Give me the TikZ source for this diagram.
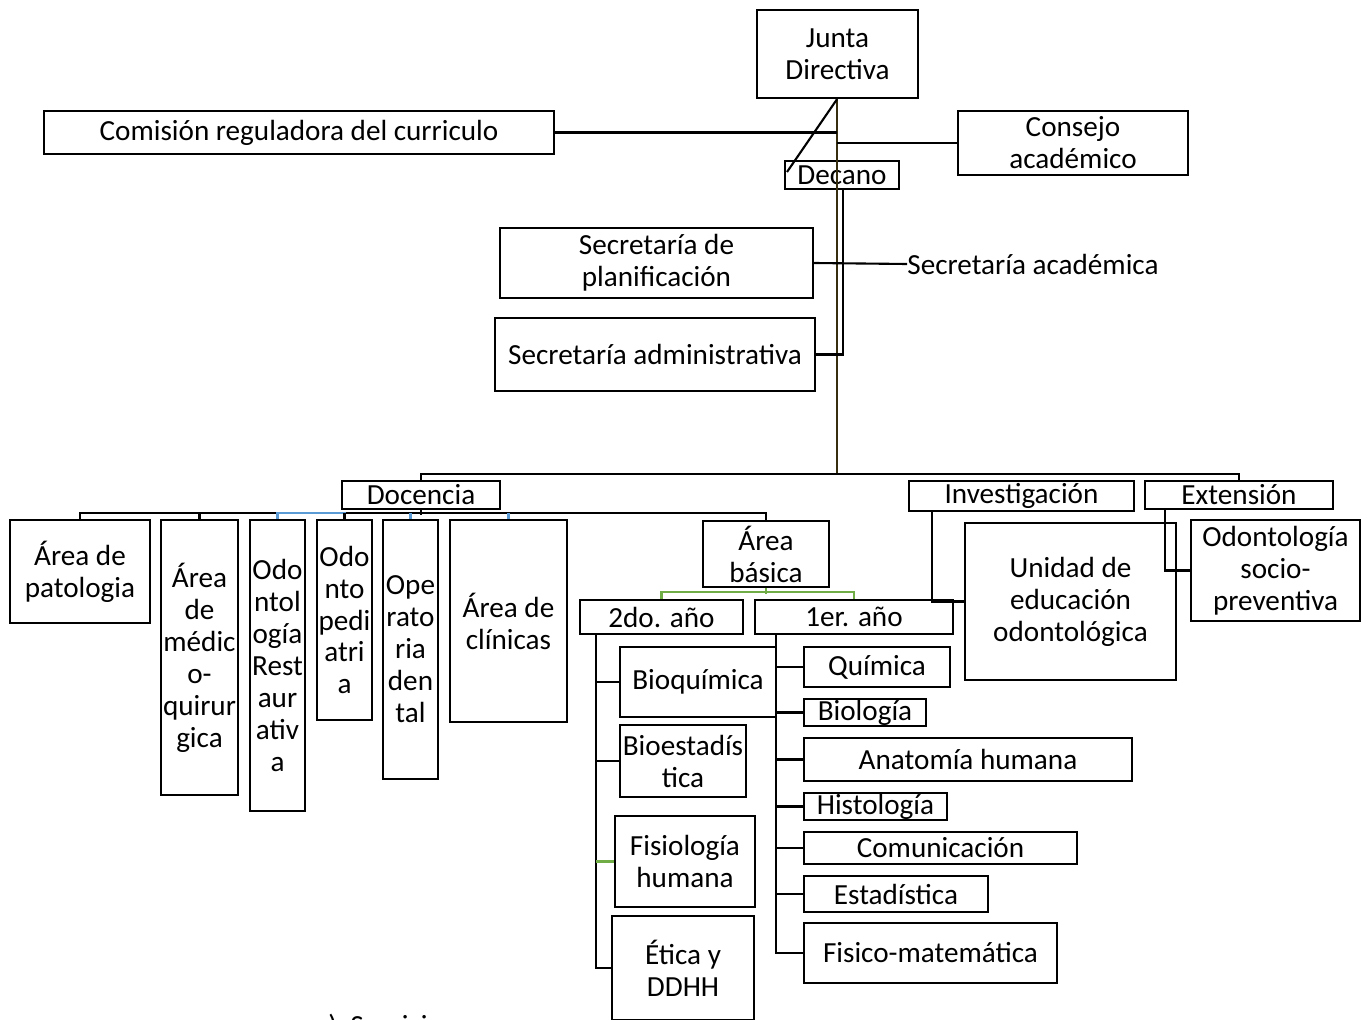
\documentclass[tikz,border=0pt]{standalone}
\usepackage{fontspec}
\setmainfont{Carlito}
\newcommand\fs{\fontsize{16.6}{18.2}\selectfont}
\definecolor{trunkc}{RGB}{55,45,15}
\definecolor{blu}{RGB}{91,155,213}
\definecolor{grn}{RGB}{112,173,71}
\begin{document}
\begin{tikzpicture}[x=0.02cm,y=-0.02cm,
  box/.style={draw,line width=1.4pt,inner sep=0pt,align=center,font=\fs,fill=white},
  obox/.style={draw,line width=1.4pt,inner sep=0pt,align=center,font=\fs},
  ln/.style={line width=1.2pt},
  trunk/.style={line width=1.2pt,draw=trunkc},
  bln/.style={line width=1.2pt,draw=blu},
  gln/.style={line width=1.2pt,draw=grn}]
\newcommand\bx[7][box]{\node[#1,minimum width={(#5-#3)*0.02cm},minimum height={(#6-#4)*0.02cm}] (#2) at ({(#3+#5)/2},{(#4+#6)/2}) {#7};}
\useasboundingbox (0,0) rectangle (1369,1020);
% bottom partial text (covered by box)
\node[font=\fs,anchor=base west,inner sep=0pt] (serv) at (328,1035) {)\ \ Servicios};
% boxes
\bx{junta}{757}{10}{918}{98}{Junta\\Directiva}
\bx{comision}{44}{111}{554}{154}{Comisión reguladora del curriculo}
\bx{consejo}{958}{111}{1188}{175}{Consejo\\académico}
\bx[obox]{decano}{785}{161}{899}{189}{Decano}
\bx{secplan}{500}{228}{813}{298}{Secretaría de\\planificación}
\node[font=\fs,anchor=west,inner sep=0pt] (secacad) at (907,264) {Secretaría académica};
\bx{secadm}{495}{318}{815}{391}{Secretaría administrativa}
\bx{docencia}{342}{481}{500}{509}{Docencia}
\bx{investigacion}{909}{481}{1134}{511}{Investigación}
\bx{extension}{1145}{481}{1333}{509}{Extensión}
\bx{patologia}{10}{520}{150}{623}{Área de\\patologia}
\bx{medico}{161}{520}{238}{795}{Área\\de\\médic\\o-\\quirur\\gica}
\bx{odrest}{250}{520}{305}{811}{Odo\\ntol\\ogía\\Rest\\aur\\ativ\\a}
\bx{odped}{317}{520}{372}{720}{Odo\\nto\\pedi\\atri\\a}
\bx{operatoria}{383}{520}{438}{779}{Ope\\rato\\ria\\den\\tal}
\bx{clinicas}{450}{520}{567}{722}{Área de\\clínicas}
\bx{abasica}{703}{521}{829}{587}{Área\\básica}
\bx{segundo}{580}{600}{743}{634}{2do. año}
\bx{primero}{755}{600}{953}{634}{1er. año}
\bx{unidad}{965}{523}{1176}{680}{Unidad de\\educación\\odontológica}
\bx{odsp}{1191}{520}{1360}{621}{Odontología\\socio-\\preventiva}
\bx{bioq}{620}{647}{776}{717}{Bioquímica}
\bx{bioest}{620}{725}{746}{797}{Bioestadís\\tica}
\bx{fisio}{615}{816}{755}{907}{Fisiología\\humana}
\bx{etica}{612}{916}{754}{1020}{Ética y\\DDHH}
\bx{quimica}{804}{647}{950}{687}{Química}
\bx{biologia}{804}{699}{926}{726}{Biología}
\bx{anatomia}{804}{738}{1132}{781}{Anatomía humana}
\bx{histologia}{804}{793}{947}{820}{Histología}
\bx{comunic}{804}{832}{1077}{864}{Comunicación}
\bx{estad}{804}{876}{988}{912}{Estadística}
\bx{fisico}{804}{923}{1057}{983}{Fisico-matemática}
% connectors top
\coordinate (hub) at (837,474);
\coordinate (dg) at (787,172);
\coordinate (d2) at (843,189);
\draw[trunk] (junta.south -| hub) -- (hub);
\draw[ln] (junta.south -| hub) -- (dg);
\draw[ln] (comision.east) -- (comision.east -| hub);
\draw[ln] (consejo.west) -- (consejo.west -| hub);
\draw[ln] (d2) |- (secadm.east);
\draw[ln] (secplan.east) -- (secacad.west);
\draw[trunk] (hub) -- ++(185,0);
\draw[ln] (docencia.north) |- (hub) -| (extension.north);
% docencia children
\draw[ln] (docencia.south) -- ++(0,5);
\draw[ln] (patologia.north) -- ++(0,-6) -| (abasica.north);
\draw[ln] (medico.north) -- ++(0,-6);
\draw[bln] (odrest.north) -- ++(0,-6) -| (odped.north);
\draw[ln] (odped.north) -- ++(0,-6);
\draw[bln] (operatoria.north) -- ++(0,-6);
\draw[bln] (clinicas.north) -- ++(0,-6);
% area basica
\draw[gln] (abasica.south) -- ++(0,6);
\draw[gln] (segundo.north) -- ++(0,-7) -| (primero.north);
% 2do año
\coordinate (s2) at (596,634);
\draw[ln] (s2) |- (etica.west);
\draw[ln] (bioq.west) -- (bioq.west -| s2);
\draw[ln] (bioest.west) -- (bioest.west -| s2);
\draw[gln] (fisio.west) -- (fisio.west -| s2);
% 1er año
\coordinate (p1) at (776,634);
\draw[ln] (p1) |- (fisico.west);
\foreach \n in {quimica,biologia,anatomia,histologia,comunic,estad}
  \draw[ln] (\n.west) -- (\n.west -| p1);
% investigacion / extension
\coordinate (iv) at (932,0);
\coordinate (ev) at (1165,0);
\draw[ln] (investigacion.south -| iv) |- (unidad.west);
\draw[ln] (extension.south -| ev) |- (odsp.west);
\end{tikzpicture}
\end{document}
